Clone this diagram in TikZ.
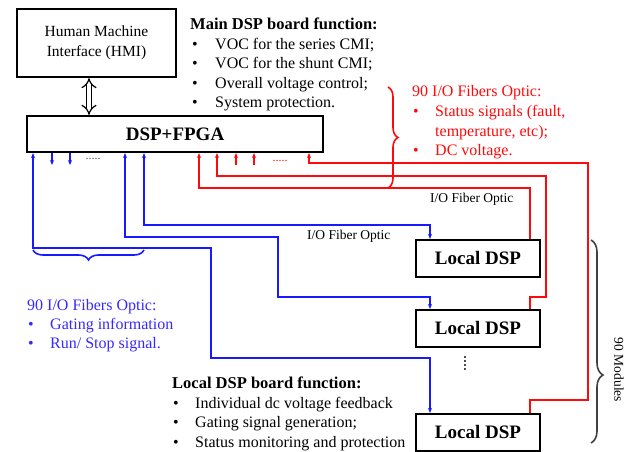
\documentclass[tikz,border=0pt]{standalone}
\usepackage{fontspec}
\setmainfont{Liberation Serif}
\usetikzlibrary{arrows.meta,decorations.pathreplacing,shadows}
\definecolor{myblue}{RGB}{25,25,255}
\definecolor{mytblue}{RGB}{55,40,255}
\definecolor{myred}{RGB}{255,10,10}
\begin{document}
\begin{tikzpicture}[x=1pt,y=-1pt,
  box/.style={draw, fill=white, line width=2.2pt, inner sep=0pt, align=center,
    drop shadow={shadow xshift=1.3pt, shadow yshift=-1.3pt, fill=black!40, opacity=1}},
  bigbold/.style={font=\fontsize{19}{19}\selectfont\bfseries},
  txt/.style={anchor=base west, inner sep=0pt, font=\fontsize{16}{19}\selectfont},
  hd/.style={txt, font=\fontsize{16.5}{19}\selectfont\bfseries},
  lbl/.style={anchor=base west, inner sep=0pt, font=\fontsize{13.5}{14}\selectfont},
  rl/.style={draw=myred, line width=1.7pt},
  bl/.style={draw=myblue, line width=1.7pt},
  tipe/.style={-{Stealth[length=5pt,width=4pt]}},
  tipb/.style={{Stealth[length=5pt,width=4pt]}-{Stealth[length=5pt,width=4pt]}},
  brc/.style={decorate, line width=1.6pt},
]
\useasboundingbox (0,0) rectangle (633,452);

% boxes
\node[box, minimum width=159pt, minimum height=68pt, font=\fontsize{15.5}{20}\selectfont] (hmi) at (96.5,43) {Human Machine\\Interface (HMI)};
\node[box, bigbold, minimum width=296pt, minimum height=36pt] (fpga) at (175,134) {DSP+FPGA};
\node[box, bigbold, minimum width=124pt, minimum height=37pt] (l1) at (478,258.5) {Local DSP};
\node[box, bigbold, minimum width=124pt, minimum height=37pt] (l2) at (478,328.5) {Local DSP};
\node[box, bigbold, minimum width=124pt, minimum height=37pt] (l3) at (478,432.5) {Local DSP};

% HMI <-> DSP
\draw[double, double distance=4pt, line width=1.2pt, {Implies}-{Implies}] (hmi.south -| 89,0) -- (fpga.north -| 89,0);

% red connectors
\draw[rl, tipe] (l1.north -| 530,0) -- (530,188) -- (199,188) -- (fpga.south -| 199,0);
\draw[rl, tipe] (l2.north -| 530,0) -- (530,297) -- (546,297) -- (546,176) -- (217,176) -- (fpga.south -| 217,0);
\draw[rl, tipe] (l3.north -| 530,0) -- (530,400) -- (588,400) -- (588,163) -- (309,163) -- (fpga.south -| 309,0);
\coordinate (rs1) at (236,165);
\coordinate (rs2) at (254,165);
\draw[rl, tipe] (rs1) -- (fpga.south -| rs1);
\draw[rl, tipe] (rs2) -- (fpga.south -| rs2);
\node[anchor=base, inner sep=0pt, text=myred, font=\fontsize{12}{12}\selectfont] (rdots) at (280,162) {.....};

% blue connectors
\draw[bl, tipb] (fpga.south -| 144,0) -- (144,225) -- (430,225) -- (l1.north -| 430,0);
\draw[bl, tipb] (fpga.south -| 125,0) -- (125,237) -- (278,237) -- (278,297) -- (430,297) -- (l2.north -| 430,0);
\draw[bl, tipb] (fpga.south -| 33,0) -- (33,248) -- (211,248) -- (211,358) -- (430,358) -- (l3.north -| 430,0);
\coordinate (bs1) at (52,165);
\coordinate (bs2) at (70,165);
\draw[bl, tipe] (fpga.south -| bs1) -- (bs1);
\draw[bl, tipe] (fpga.south -| bs2) -- (bs2);
\node[anchor=base, inner sep=0pt, text=black!70, font=\fontsize{12}{12}\selectfont] (bdots) at (93,160) {.....};

% braces
\draw[brc, draw=myred, decoration={brace, amplitude=10pt}] (388,87) -- (388,188);
\draw[brc, draw=myblue, decoration={brace, amplitude=10pt}] (144,250) -- (33,250);
\draw[brc, draw=black!75, decoration={brace, amplitude=12pt, aspect=0.665}] (591,240) -- (591,443);
\node[rotate=-90, inner sep=0pt, font=\fontsize{13.5}{14}\selectfont] (mod) at (619,370) {90 Modules};
\node[rotate=-90, inner sep=0pt, font=\fontsize{16}{16}\selectfont] (vd) at (465,363) {....};

% connector labels
\node[lbl] (fo1) at (430,202) {I/O Fiber Optic};
\node[lbl] (fo2) at (307,239) {I/O Fiber Optic};

% main DSP board function
\node[hd] (mh) at (190,30) {Main DSP board function:};
\foreach \t [count=\i] in {VOC for the series CMI;, VOC for the shunt CMI;, Overall voltage control;, System protection.} {
  \node[txt] (mb\i) at (192,{30+19.5*\i}) {\textbullet};
  \node[txt] (mt\i) at (215,{30+19.5*\i}) {\t};
}

% red list
\node[txt, text=myred] (rh) at (412,97) {90 I/O Fibers Optic:};
\node[txt, text=myred] (rb1) at (413,116.5) {\textbullet};
\node[txt, text=myred] (rt1) at (435,116.5) {Status signals (fault,};
\node[txt, text=myred] (rt2) at (435,136) {temperature, etc);};
\node[txt, text=myred] (rb3) at (413,155.5) {\textbullet};
\node[txt, text=myred] (rt3) at (435,155.5) {DC voltage.};

% blue list
\node[txt, text=mytblue] (bh) at (27,310) {90 I/O Fibers Optic:};
\node[txt, text=mytblue] (bb1) at (28,329) {\textbullet};
\node[txt, text=mytblue] (bt1) at (50,329) {Gating information};
\node[txt, text=mytblue] (bb2) at (28,348) {\textbullet};
\node[txt, text=mytblue] (bt2) at (50,348) {Run/ Stop signal.};

% local DSP board function
\node[hd] (lh) at (172,388.5) {Local DSP board function:};
\foreach \t [count=\i] in {Individual dc voltage feedback, Gating signal generation;, Status monitoring and protection} {
  \node[txt] (lb\i) at (173,{388.5+19.5*\i}) {\textbullet};
  \node[txt] (lt\i) at (195,{388.5+19.5*\i}) {\t};
}
\end{tikzpicture}
\end{document}
